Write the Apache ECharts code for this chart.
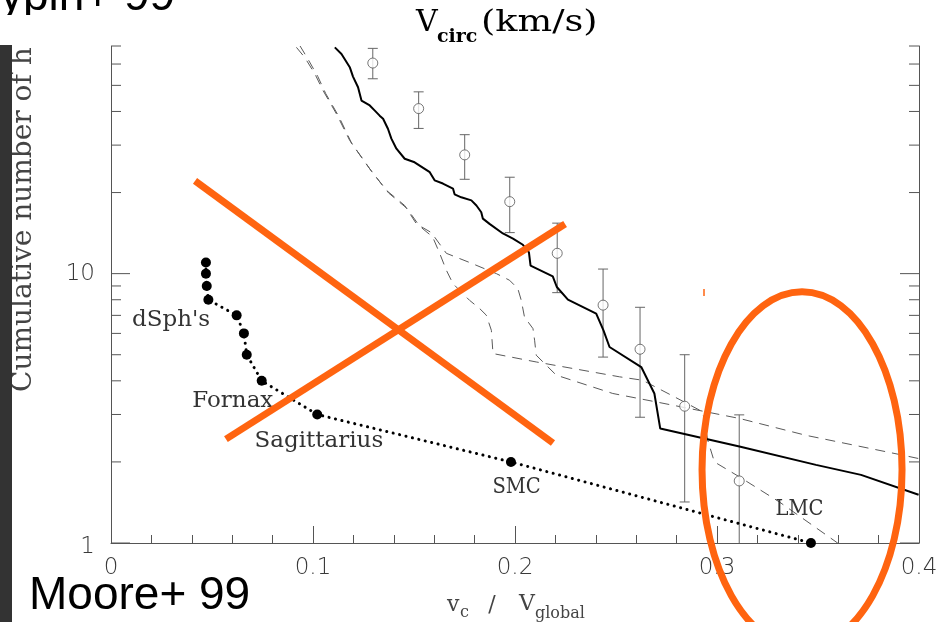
<!DOCTYPE html>
<html><head><meta charset="utf-8">
<script src="https://cdn.jsdelivr.net/npm/echarts@6/dist/echarts.min.js"></script>
<style>html,body{margin:0;padding:0;background:#fff}#c{width:937px;height:622px}</style>
</head><body><div id="c"></div>
<script>
// ---------------- data ----------------
const xTickLabels = ['0', '0.1', '0.2', '0.3', '0.4'];
const yMajorTicks = [1, 10];
const yMinorTicks = [2, 3, 4, 5, 6, 7, 8, 9, 20, 30, 40, 50, 60, 70];

// Milky Way satellites (dotted line with filled dots)
const satX = [0.0470, 0.0470, 0.0474, 0.0482, 0.0622, 0.0658, 0.0672, 0.0746, 0.1021, 0.1980, 0.3465];
const satY = [11, 10, 9, 8, 7, 6, 5, 4, 3, 2, 1];

// satellite name labels
const labelNames = ["dSph's", 'Fornax', 'Sagittarius', 'SMC', 'LMC'];
const labelX = [0.0297, 0.0603, 0.1029, 0.2008, 0.3408];
const labelY = [6.73, 3.37, 2.39, 1.61, 1.34];

// open circles with error bars
const obsX = [0.1296, 0.1523, 0.1751, 0.1974, 0.2209, 0.2436, 0.2619, 0.2840, 0.3110];
const obsY = [60.5, 41.0, 27.6, 18.5, 11.9, 7.64, 5.24, 3.22, 1.70];
const obsHigh = [68.6, 47.3, 32.8, 22.8, 15.4, 10.4, 7.50, 5.00, 2.99];
const obsLow = [52.9, 34.6, 22.4, 14.2, 8.50, 4.90, 2.93, 1.42, 1.0];

// solid curve
const solidX = [0.1108, 0.1141, 0.1182, 0.1198, 0.1223, 0.1240, 0.1281, 0.1306, 0.1330, 0.1347, 0.1371, 0.1388, 0.1413, 0.1454, 0.1503, 0.1553, 0.1578, 0.1602, 0.1643, 0.1693, 0.1701, 0.1734, 0.1784, 0.1809, 0.1833, 0.1841, 0.1874, 0.1940, 0.1990, 0.2039, 0.2069, 0.2077, 0.2187, 0.2207, 0.2262, 0.2402, 0.2438, 0.2468, 0.2625, 0.2690, 0.2719, 0.3111, 0.3490, 0.3713, 0.3998];
const solidY = [69.2, 65.4, 58.4, 53.9, 49.2, 43.9, 42.1, 40.3, 38.6, 37.6, 34.5, 31.7, 29.1, 26.7, 25.9, 24.5, 23.8, 22.2, 21.6, 20.7, 19.7, 19.2, 18.7, 17.9, 16.9, 16.0, 15.3, 14.1, 13.5, 12.8, 12.0, 10.7, 9.77, 8.92, 8.01, 7.11, 6.16, 5.34, 4.50, 3.59, 2.66, 2.28, 1.95, 1.79, 1.51];

// dashed curve A (ends near LMC)
const dashAX = [0.0935, 0.0974, 0.1024, 0.1063, 0.1128, 0.1192, 0.1291, 0.1375, 0.1464, 0.1528, 0.1592, 0.1627, 0.1660, 0.1693, 0.1775, 0.1825, 0.1858, 0.1883, 0.1891, 0.2105, 0.2517, 0.2631, 0.2789, 0.2929, 0.2954, 0.2987, 0.3111, 0.3309, 0.3589, 0.3704];
const dashAY = [70.2, 62.8, 53.9, 46.6, 38.3, 30.4, 23.9, 19.9, 17.5, 15.0, 13.7, 11.9, 10.3, 9.18, 7.96, 7.42, 7.01, 6.16, 5.05, 4.70, 4.14, 4.02, 3.49, 3.07, 2.41, 2.00, 1.76, 1.42, 1.01, 0.865];

// dashed curve B (ends at right edge)
const dashBX = [0.0918, 0.0959, 0.1009, 0.1050, 0.1116, 0.1182, 0.1281, 0.1363, 0.1454, 0.1512, 0.1586, 0.1660, 0.1775, 0.1908, 0.1973, 0.2014, 0.2031, 0.2047, 0.2089, 0.2097, 0.2105, 0.2204, 0.2484, 0.2699, 0.3111, 0.3441, 0.3918, 0.3996];
const dashBY = [69.2, 63.5, 55.2, 47.8, 39.2, 31.2, 24.5, 20.4, 17.9, 15.3, 14.2, 11.9, 11.0, 10.0, 9.45, 8.80, 7.96, 6.90, 6.25, 5.66, 4.98, 4.20, 3.59, 3.34, 2.90, 2.51, 2.12, 2.06];

// hand-drawn orange annotations (data coords)
const cross1X = [0.0416, 0.2188];
const cross1Y = [22.1, 2.35];
const cross2X = [0.0569, 0.2248];
const cross2Y = [2.43, 15.28];
const ringCenter = [0.3421, 1.87];

// ---------------- chart ----------------
const zip = (a, b) => a.map((v, i) => [v, b[i]]);
const ORANGE = '#FF6410';
const AXC = '#555';

const chart = echarts.init(document.getElementById('c'), null, {renderer: 'canvas'});

const yTickData = yMajorTicks.map(v => [0, v, 1]).concat(yMinorTicks.map(v => [0, v, 0]));

const option = {
  animation: false,
  backgroundColor: '#fff',
  grid: {left: 111, right: 18, top: 46, bottom: 79, containLabel: false, outerBoundsMode: 'none'},
  xAxis: {
    type: 'value', min: 0, max: 0.4, interval: 0.1,
    axisLine: {show: true, onZero: false, lineStyle: {color: AXC, width: 1}},
    axisTick: {show: true, inside: true, length: 17, lineStyle: {color: AXC, width: 1}},
    minorTick: {show: true, splitNumber: 5, length: 8, lineStyle: {color: AXC, width: 1}},
    splitLine: {show: false}, minorSplitLine: {show: false},
    axisLabel: {
      margin: 14, color: '#3a3a3a', fontFamily: 'DejaVu Sans', fontSize: 23, fontWeight: 200,
      formatter: v => xTickLabels[Math.round(v * 10)] || ''
    }
  },
  yAxis: [{
    type: 'log', logBase: 10, min: 1, max: 70, position: 'left',
    axisLine: {show: true, lineStyle: {color: AXC, width: 1}},
    axisTick: {show: false}, splitLine: {show: false}, minorTick: {show: false},
    axisLabel: {
      margin: 16, color: '#3a3a3a', fontFamily: 'DejaVu Sans', fontSize: 23, fontWeight: 200,
      formatter: v => (Math.abs(v - 1) < 1e-6 ? '{lo|1}' : (Math.abs(v - 10) < 1e-6 ? '10' : '')),
      rich: {lo: {fontFamily: 'DejaVu Sans', fontSize: 23, fontWeight: 200, color: '#3a3a3a', padding: [9, 0, 0, 0]}}
    }
  }, {
    type: 'log', logBase: 10, min: 1, max: 70, position: 'right',
    axisLine: {show: true, lineStyle: {color: AXC, width: 1}},
    axisTick: {show: false}, splitLine: {show: false}, axisLabel: {show: false}
  }],
  series: [
    {
      type: 'line', data: zip(dashAX, dashAY), symbol: 'none', clip: true, silent: true, z: 2,
      lineStyle: {color: '#5a5a5a', width: 1, type: [10, 7]}
    },
    {
      type: 'line', data: zip(dashBX, dashBY), symbol: 'none', clip: true, silent: true, z: 2,
      lineStyle: {color: '#5a5a5a', width: 1, type: [10, 7]}
    },
    {
      type: 'line', data: zip(solidX, solidY), symbol: 'none', clip: true, silent: true, z: 3,
      lineStyle: {color: '#000', width: 2}
    },
    {
      type: 'custom', silent: true, z: 3,
      data: obsX.map((x, i) => [x, obsLow[i], obsHigh[i]]),
      renderItem: (params, api) => {
        const x = api.value(0), lo = api.value(1), hi = api.value(2);
        const pl = api.coord([x, Math.max(lo, 1)]);
        const ph = api.coord([x, hi]);
        const w = 5;
        const st = {stroke: '#666', lineWidth: 1};
        const ch = [
          {type: 'line', shape: {x1: pl[0], y1: pl[1], x2: ph[0], y2: ph[1]}, style: st},
          {type: 'line', shape: {x1: ph[0] - w, y1: ph[1], x2: ph[0] + w, y2: ph[1]}, style: st}
        ];
        if (lo > 1) ch.push({type: 'line', shape: {x1: pl[0] - w, y1: pl[1], x2: pl[0] + w, y2: pl[1]}, style: st});
        return {type: 'group', children: ch};
      }
    },
    {
      type: 'scatter', data: zip(obsX, obsY), symbol: 'circle', symbolSize: 10, silent: true, z: 4,
      itemStyle: {color: '#fff', borderColor: '#555', borderWidth: 1}
    },
    {
      type: 'line', data: zip(satX, satY), symbol: 'circle', symbolSize: 10, silent: true, z: 5,
      itemStyle: {color: '#000'},
      lineStyle: {color: '#000', width: 3, type: [0.1, 6.5], cap: 'round'}
    },
    {
      type: 'custom', silent: true, z: 4,
      data: yTickData,
      renderItem: (params, api) => {
        const v = api.value(1), major = api.value(2) === 1;
        const pl = api.coord([0, v]);
        const pr = api.coord([0.4, v]);
        const len = major ? 19 : 10;
        const st = {stroke: AXC, lineWidth: 1};
        return {type: 'group', children: [
          {type: 'line', shape: {x1: pl[0], y1: pl[1], x2: pl[0] + len, y2: pl[1]}, style: st},
          {type: 'line', shape: {x1: pr[0], y1: pr[1], x2: pr[0] - len, y2: pr[1]}, style: st}
        ]};
      }
    },
    {
      type: 'custom', silent: true, z: 6,
      data: labelX.map((x, i) => [x, labelY[i], i]),
      renderItem: (params, api) => {
        const i = api.value(2);
        const p = api.coord([api.value(0), api.value(1)]);
        const name = labelNames[i];
        const caps = name === name.toUpperCase();
        return {
          type: 'text', x: p[0], y: p[1], scaleX: caps ? 0.85 : 1,
          style: {text: name, textAlign: 'center', textVerticalAlign: 'middle',
                  font: '23px "DejaVu Serif"', fill: '#333'}
        };
      }
    },
    {
      type: 'line', data: zip(cross1X, cross1Y), symbol: 'none', clip: false, silent: true, z: 10,
      lineStyle: {color: ORANGE, width: 7, cap: 'butt'}
    },
    {
      type: 'line', data: zip(cross2X, cross2Y), symbol: 'none', clip: false, silent: true, z: 10,
      lineStyle: {color: ORANGE, width: 7, cap: 'butt'}
    },
    {
      type: 'custom', silent: true, z: 10, clip: false,
      data: [ringCenter],
      renderItem: (params, api) => {
        const p = api.coord([api.value(0), api.value(1)]);
        return {
          type: 'ellipse', shape: {cx: p[0], cy: p[1], rx: 100, ry: 178},
          style: {fill: 'none', stroke: ORANGE, lineWidth: 7}
        };
      }
    }
  ],
  graphic: [
    // y axis title (rotated)
    {type: 'text', x: 24, y: 392, rotation: Math.PI / 2, z: 1,
     style: {text: 'Cumulative number of halos', textAlign: 'left', textVerticalAlign: 'middle',
             font: '28px "DejaVu Serif"', fill: '#444'}},
    {type: 'rect', shape: {x: 0, y: 0, width: 70, height: 46}, style: {fill: '#fff'}, z: 2},
    // slide text partly hidden at the top
    {type: 'text', x: -41, y: -3, z: 3,
     style: {text: 'Klypin+ 99', textAlign: 'left', textVerticalAlign: 'middle',
             font: '46px "Liberation Sans"', fill: '#000'}},
    {type: 'rect', shape: {x: 0, y: 15, width: 330, height: 31}, style: {fill: '#fff'}, z: 4},
    // dark strip on the left
    {type: 'rect', shape: {x: 0, y: 45, width: 12, height: 577}, style: {fill: '#333'}, z: 5},
    // title V_circ(km/s)
    {type: 'text', x: 416, y: 23, z: 5,
     style: {text: 'V', textAlign: 'left', textVerticalAlign: 'middle', font: '30px "DejaVu Serif"', fill: '#000'}},
    {type: 'text', x: 437, y: 37, z: 5,
     style: {text: 'circ', textAlign: 'left', textVerticalAlign: 'middle', font: 'bold 19px "DejaVu Serif"', fill: '#000'}},
    {type: 'text', x: 481, y: 23, scaleX: 1.22, z: 5,
     style: {text: '(km/s)', textAlign: 'left', textVerticalAlign: 'middle', font: '30px "DejaVu Serif"', fill: '#000'}},
    // x axis title v_c / V_global
    {type: 'text', x: 447, y: 605, z: 5,
     style: {text: 'v', textAlign: 'left', textVerticalAlign: 'middle', font: '22px "DejaVu Serif"', fill: '#444'}},
    {type: 'text', x: 460, y: 613, z: 5,
     style: {text: 'c', textAlign: 'left', textVerticalAlign: 'middle', font: '16px "DejaVu Serif"', fill: '#444'}},
    {type: 'text', x: 492, y: 605, z: 5,
     style: {text: '/', textAlign: 'center', textVerticalAlign: 'middle', font: '22px "DejaVu Serif"', fill: '#444'}},
    {type: 'text', x: 519, y: 604, z: 5,
     style: {text: 'V', textAlign: 'left', textVerticalAlign: 'middle', font: '22px "DejaVu Serif"', fill: '#444'}},
    {type: 'text', x: 535, y: 614, z: 5,
     style: {text: 'global', textAlign: 'left', textVerticalAlign: 'middle', font: '16px "DejaVu Serif"', fill: '#444'}},
    // slide caption
    {type: 'text', x: 29, y: 596, z: 6,
     style: {text: 'Moore+ 99', textAlign: 'left', textVerticalAlign: 'middle', font: '46px "Liberation Sans"', fill: '#000'}},
    // small orange pen mark
    {type: 'line', shape: {x1: 704, y1: 289, x2: 704, y2: 296}, style: {stroke: ORANGE, lineWidth: 1.5}, z: 10}
  ]
};
chart.setOption(option);
</script>
</body></html>
